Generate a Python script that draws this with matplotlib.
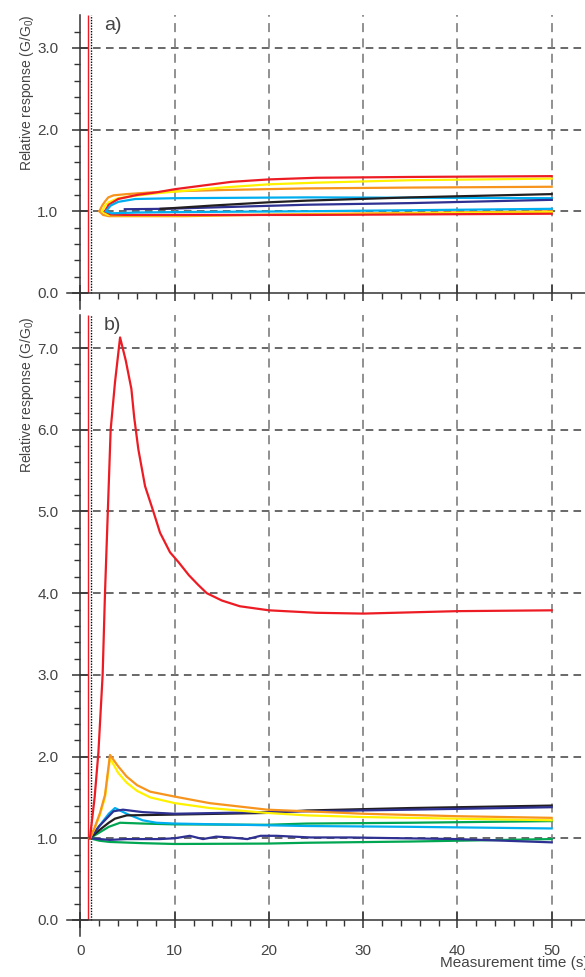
import matplotlib.pyplot as plt
import numpy as np
from matplotlib.ticker import MultipleLocator, FixedLocator

plt.rcParams['font.family'] = ['Liberation Sans', 'DejaVu Sans']
plt.rcParams['mathtext.default'] = 'regular'

RED = '#ed1c24'
YEL = '#fff200'
ORG = '#f7941d'
CYN = '#00aeef'
NAV = '#2e3192'
BLK = '#231f20'
GRN = '#00a651'

# ---- panel a) : each colour has an upper and a lower branch ----
a_orange_up_t = [2.0, 2.3, 2.6, 2.95, 3.5, 4.9, 7.4, 10, 15, 24, 35, 50]
a_orange_up_y = [1.0, 1.07, 1.12, 1.17, 1.195, 1.21, 1.23, 1.245, 1.26, 1.28, 1.29, 1.30]
a_orange_lo_t = [2.0, 2.4, 3.0, 5, 11, 24, 50]
a_orange_lo_y = [1.0, 0.955, 0.94, 0.94, 0.94, 0.965, 1.0]

a_yellow_up_t = [2.3, 2.6, 3.0, 4.0, 5.8, 8, 10, 15, 20, 25, 35, 50]
a_yellow_up_y = [1.0, 1.07, 1.11, 1.16, 1.19, 1.22, 1.24, 1.29, 1.33, 1.35, 1.38, 1.40]
a_yellow_lo_t = [2.3, 2.9, 5, 10, 24, 50]
a_yellow_lo_y = [1.0, 0.955, 0.95, 0.95, 0.96, 0.99]

a_red_up_t = [2.6, 3.0, 4.0, 6, 8, 10, 12, 16, 20, 25, 35, 50]
a_red_up_y = [1.0, 1.08, 1.15, 1.2, 1.23, 1.27, 1.3, 1.36, 1.39, 1.41, 1.42, 1.43]
a_red_lo_t = [2.6, 3.2, 5, 10, 24, 50]
a_red_lo_y = [1.0, 0.96, 0.955, 0.955, 0.955, 0.97]

a_cyan_up_t = [2.7, 3.2, 4.0, 5.8, 10, 24, 50]
a_cyan_up_y = [1.0, 1.07, 1.115, 1.15, 1.16, 1.17, 1.16]
a_cyan_lo_t = [2.7, 3.3, 6, 10, 24, 50]
a_cyan_lo_y = [1.0, 0.975, 0.985, 0.99, 1.0, 1.03]

a_navy_t = [4.7, 9, 15, 24, 35, 50]
a_navy_y = [1.025, 1.03, 1.05, 1.08, 1.10, 1.14]
a_black_t = [8.5, 10, 14, 20, 24, 35, 50]
a_black_y = [1.03, 1.04, 1.07, 1.11, 1.13, 1.17, 1.21]

# ---- panel b) ----
b_red_t = [1.0, 1.5, 1.9, 2.35, 2.6, 2.9, 3.2, 3.66, 4.2, 4.8, 5.4, 5.7, 6.14, 6.85,
           7.73, 8.44, 9.5, 10.4, 11.5, 12.5, 13.4, 15, 16.9, 20, 25, 30, 40, 50]
b_red_y = [1.0, 1.5, 2.05, 3.0, 4.0, 5.0, 6.0, 6.58, 7.13, 6.85, 6.5, 6.15, 5.76, 5.31,
           5.0, 4.74, 4.5, 4.38, 4.22, 4.1, 4.0, 3.91, 3.84, 3.79, 3.76, 3.75, 3.78, 3.79]

b_orange_t = [1.0, 1.5, 2.07, 2.6, 3.13, 4.0, 4.9, 6, 7.4, 10, 13.7, 19.8, 24, 30, 40, 50]
b_orange_y = [1.0, 1.13, 1.31, 1.53, 2.02, 1.88, 1.755, 1.65, 1.57, 1.51, 1.43, 1.35, 1.33, 1.30, 1.27, 1.25]
b_yellow_t = [1.0, 1.5, 2.07, 2.6, 3.13, 4.0, 4.9, 6, 7.4, 10, 13.7, 19.8, 24, 30, 40, 50]
b_yellow_y = [1.0, 1.12, 1.29, 1.5, 1.98, 1.8, 1.68, 1.58, 1.5, 1.43, 1.37, 1.31, 1.28, 1.26, 1.24, 1.22]

b_black_t = [1.0, 2.0, 3.0, 3.66, 4.9, 10, 19.8, 24, 35, 50]
b_black_y = [1.0, 1.1, 1.19, 1.24, 1.28, 1.29, 1.31, 1.34, 1.37, 1.40]
b_navy_t = [1.0, 2.0, 3.0, 3.5, 4.5, 6.6, 10, 19.8, 24, 35, 50]
b_navy_y = [1.0, 1.15, 1.27, 1.33, 1.35, 1.32, 1.30, 1.32, 1.33, 1.35, 1.38]
b_cyan_t = [1.0, 2.0, 3.0, 3.66, 4.9, 6.6, 8.05, 10, 24, 35, 50]
b_cyan_y = [1.0, 1.15, 1.3, 1.37, 1.30, 1.22, 1.19, 1.18, 1.15, 1.14, 1.12]
b_green_up_t = [1.0, 2.0, 3.0, 4.2, 6.6, 10, 19.8, 24, 35, 50]
b_green_up_y = [1.0, 1.07, 1.14, 1.19, 1.18, 1.17, 1.165, 1.18, 1.19, 1.21]

b_navy_lo_t = [1.0, 3.1, 4.9, 8.4, 10, 11.6, 13, 14.4, 15.9, 17.7, 19.1, 20.8, 22.6,
               24.4, 28.6, 34, 39.9, 45, 50]
b_navy_lo_y = [1.0, 0.98, 0.99, 0.99, 1.0, 1.03, 0.99, 1.02, 1.01, 0.99, 1.03, 1.03, 1.02,
               1.01, 1.01, 1.0, 0.99, 0.97, 0.95]
b_green_lo_t = [1.0, 2.0, 3.1, 6.6, 10, 19.8, 24, 35, 40, 50]
b_green_lo_y = [1.0, 0.97, 0.955, 0.94, 0.93, 0.935, 0.945, 0.96, 0.97, 0.99]

x_major = [0, 10, 20, 30, 40, 50]
red_mark = 0.75
dot_mark = 1.07

W, H = 585, 977
fig = plt.figure(figsize=(W / 100, H / 100), dpi=100)

def px_axes(left, top, right, bottom):
    return fig.add_axes([left / W, 1 - bottom / H, (right - left) / W, (bottom - top) / H])

ax_a = px_axes(67.3, 15.2, 589.4, 309.3)
ax_b = px_axes(67.3, 315.4, 589.4, 936.3)


def setup(ax, ytop, show_x):
    ax.set_xlim(-1.4, 54)
    ax.set_ylim(-0.2, ytop)
    ax.patch.set_alpha(0)
    for s in ['top', 'right']:
        ax.spines[s].set_visible(False)
    for s in ['left', 'bottom']:
        ax.spines[s].set_position(('data', 0))
        ax.spines[s].set_color('#333333')
        ax.spines[s].set_linewidth(1.1)
    ax.xaxis.set_major_locator(FixedLocator(x_major))
    ax.xaxis.set_minor_locator(MultipleLocator(2))
    yt = list(range(0, int(ytop) + 1))
    ax.yaxis.set_major_locator(FixedLocator(yt))
    ax.yaxis.set_minor_locator(FixedLocator(np.arange(0.2, ytop, 0.2)))
    ax.set_yticklabels(['%.1f' % v for v in yt])
    ax.tick_params(which='major', direction='inout', length=12, width=1.1,
                   color='#333333', labelsize=11, labelcolor='#444444')
    ax.tick_params(which='minor', direction='out', length=4, width=1.0, color='#333333')
    ax.tick_params(axis='y', which='major', pad=10)
    ax.tick_params(axis='x', which='major', pad=11, labelbottom=show_x)
    # dashed grid: dark horizontals, lighter verticals
    ax.hlines(yt[1:], 0, 54, colors='#404040', linestyles=(0, (5, 3.5)), lw=1.1, zorder=1)
    ax.vlines(x_major[1:], 0, ytop, colors='#888888', linestyles=(0, (5, 3.5)), lw=1.3, zorder=1)
    ax.vlines(red_mark, 0, ytop, colors=RED, lw=1.0, zorder=2)
    ax.vlines(dot_mark, 0, ytop, colors='black', linestyles=(0, (1, 1)), lw=1.0, zorder=2)


setup(ax_a, 3.4, False)
setup(ax_b, 7.4, True)

lw = 1.6
ax_a.plot(a_orange_up_t, a_orange_up_y, color=ORG, lw=lw, zorder=3)
ax_a.plot(a_orange_lo_t, a_orange_lo_y, color=ORG, lw=lw, zorder=3)
ax_a.plot(a_yellow_up_t, a_yellow_up_y, color=YEL, lw=lw, zorder=3)
ax_a.plot(a_yellow_lo_t, a_yellow_lo_y, color=YEL, lw=lw, zorder=3)
ax_a.plot(a_red_up_t, a_red_up_y, color=RED, lw=lw, zorder=3)
ax_a.plot(a_red_lo_t, a_red_lo_y, color=RED, lw=lw, zorder=3)
ax_a.plot(a_cyan_up_t, a_cyan_up_y, color=CYN, lw=lw, zorder=3)
ax_a.plot(a_cyan_lo_t, a_cyan_lo_y, color=CYN, lw=lw, zorder=3)
ax_a.plot(a_navy_t, a_navy_y, color=NAV, lw=lw, zorder=3)
ax_a.plot(a_black_t, a_black_y, color=BLK, lw=lw, zorder=3)

ax_b.plot(b_green_lo_t, b_green_lo_y, color=GRN, lw=lw, zorder=3)
ax_b.plot(b_navy_lo_t, b_navy_lo_y, color=NAV, lw=lw, zorder=3)
ax_b.plot(b_green_up_t, b_green_up_y, color=GRN, lw=lw, zorder=3)
ax_b.plot(b_cyan_t, b_cyan_y, color=CYN, lw=lw, zorder=3)
ax_b.plot(b_black_t, b_black_y, color=BLK, lw=lw, zorder=3)
ax_b.plot(b_navy_t, b_navy_y, color=NAV, lw=lw, zorder=3)
ax_b.plot(b_yellow_t, b_yellow_y, color=YEL, lw=lw, zorder=3)
ax_b.plot(b_orange_t, b_orange_y, color=ORG, lw=lw, zorder=3)
ax_b.plot(b_red_t, b_red_y, color=RED, lw=lw, zorder=3)

ax_a.text(2.5, 3.38, 'a)', fontsize=14, color='#444444', va='top')
ax_b.text(2.5, 7.38, 'b)', fontsize=14, color='#444444', va='top')

ylab = 'Relative response (G/G$_0$)'
fig.text(27 / W, 1 - 14 / H, ylab, rotation=90, ha='center', va='top', fontsize=10, color='#444444')
fig.text(27 / W, 1 - 316 / H, ylab, rotation=90, ha='center', va='top', fontsize=10, color='#444444')
fig.text(440 / W, 1 - 967 / H, 'Measurement time (s)', ha='left', va='baseline', fontsize=11, color='#444444')

fig.savefig('out.png', dpi=100)
